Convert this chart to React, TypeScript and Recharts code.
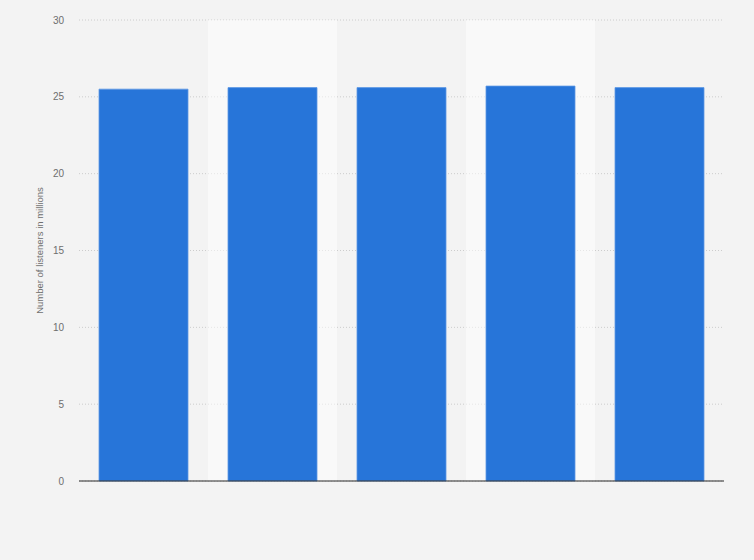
import { BarChart, Bar, XAxis, YAxis, CartesianGrid, ReferenceArea } from "recharts";

const categories = ["2017", "2018", "2019", "2020", "2021"];
const listeners = [25.5, 25.6, 25.6, 25.7, 25.6];
const yTicks = [0, 5, 10, 15, 20, 25, 30];
const shadedCategories = ["2018", "2020"];

const data = categories.map((year, i) => ({ year, listeners: listeners[i] }));

const FONT = "'Liberation Sans', Arial, sans-serif";

export default function App() {
  return (
    <div
      style={{
        position: "absolute",
        left: 0,
        top: 0,
        width: 754,
        height: 560,
        background: "#f3f3f3",
        fontFamily: FONT,
      }}
    >
      <BarChart
        width={754}
        height={560}
        data={data}
        margin={{ top: 20, right: 30, bottom: 49, left: 0 }}
        barCategoryGap={20}
      >
        {/* light column bands, semi-transparent so the dotted grid shows through */}
        {shadedCategories.map((c) => (
          <ReferenceArea key={c} x1={c} x2={c} fill="#ffffff" fillOpacity={0.5} stroke="none" ifOverflow="visible" />
        ))}
        <CartesianGrid vertical={false} stroke="#cccccc" strokeDasharray="1 2" />
        <XAxis
          dataKey="year"
          tick={false}
          tickLine={false}
          axisLine={{ stroke: "#2b2b2b", strokeWidth: 1.2 }}
          height={30}
        />
        <YAxis
          width={79}
          domain={[0, 30]}
          ticks={yTicks}
          tickLine={false}
          axisLine={false}
          tickSize={6}
          tickMargin={9}
          tick={{ fill: "#6e6e6e", fontSize: 10, fontFamily: FONT }}
          label={{
            value: "Number of listeners in millions",
            angle: -90,
            position: "center",
            fill: "#6e6e6e",
            fontSize: 9.5,
            fontFamily: FONT,
          }}
        />
        <Bar
          dataKey="listeners"
          fill="#2775d9"
          stroke="#5d98e3"
          strokeWidth={0.8}
          isAnimationActive={false}
        />
      </BarChart>
    </div>
  );
}
